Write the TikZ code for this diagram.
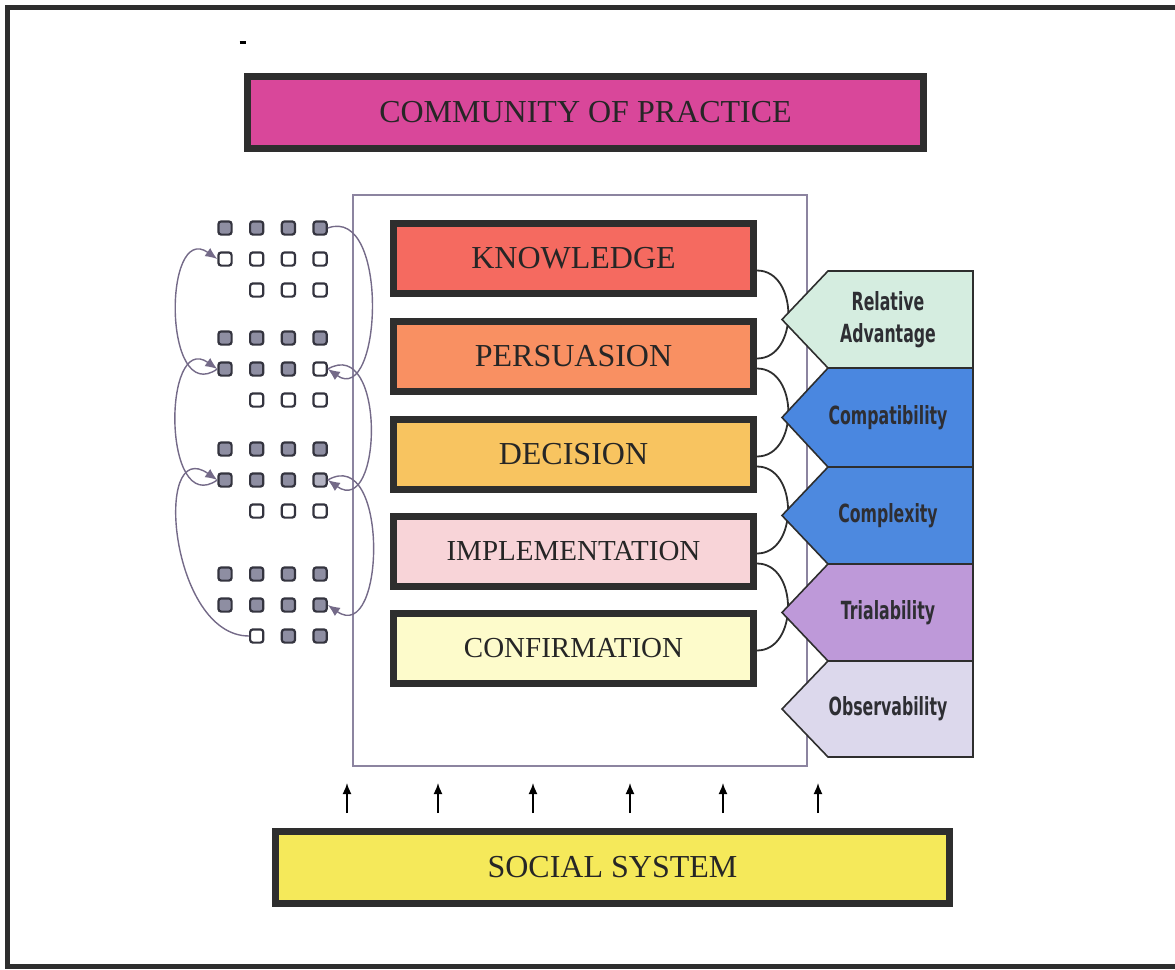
\documentclass[tikz,border=0pt]{standalone}
\usepackage{fontspec}
\usetikzlibrary{arrows.meta}
\setmainfont{Liberation Serif}
\newfontfamily\attrfont[FakeStretch=0.63]{DejaVu Sans}

\definecolor{edge}{HTML}{2E2E2E}
\definecolor{ink}{HTML}{262626}
\definecolor{copc}{HTML}{D9479A}
\definecolor{socc}{HTML}{F5E95A}
\definecolor{knc}{HTML}{F56A60}
\definecolor{pec}{HTML}{F99062}
\definecolor{dec}{HTML}{F8C460}
\definecolor{imc}{HTML}{F8D4D8}
\definecolor{coc}{HTML}{FDFBCB}
\definecolor{rel}{HTML}{D5EDE0}
\definecolor{cpt}{HTML}{4A87E0}
\definecolor{cpx}{HTML}{4D89DF}
\definecolor{tri}{HTML}{BE99D9}
\definecolor{obs}{HTML}{DCD8EC}
\definecolor{attrink}{HTML}{2E2E33}
\definecolor{sqon}{HTML}{8E8EA2}
\definecolor{sqoff}{HTML}{FFFFFF}
\definecolor{sqlt}{HTML}{B3B3C2}
\definecolor{sqedge}{HTML}{34343F}
\definecolor{flowc}{HTML}{746A88}
\definecolor{boxc}{HTML}{8C84A0}

\tikzset{
	bar/.style={draw=edge, line width=3.5pt, minimum width=338pt, minimum height=36pt, inner sep=0pt, text=ink, font=\fontsize{16}{19}\selectfont},
	stage/.style={draw=edge, line width=3.5pt, minimum width=180pt, minimum height=35pt, inner sep=0pt, text=ink},
	attr/.style={draw=edge, line width=0.8pt},
	attrlabel/.style={text=attrink, align=center, font=\attrfont\bfseries\fontsize{12.5}{16}\selectfont},
	sq/.style={draw=sqedge, line width=1.1pt, rounded corners=1.4pt, minimum size=6.6pt, inner sep=0pt},
	flow/.style={draw=flowc, line width=0.7pt, -{Latex[length=6pt, width=5pt]}},
	link/.style={draw=edge, line width=0.9pt}
}

\begin{document}
\begin{tikzpicture}[x=0.5pt, y=-0.5pt, >={Latex[length=5.5pt, width=4.5pt]}]
	\useasboundingbox (0,0) rectangle (1175,970);
	
	\draw[draw=edge, line width=2.5pt] (1175,7) -- (7,7) -- (7,966) -- (1175,966);
	\draw[line width=1.5pt] (239.5,42) -- (245.5,42);
	
	\node[bar, fill=copc] (cop) at (585.5,112.5) {COMMUNITY OF PRACTICE};
	\node[bar, fill=socc, minimum width=337pt] (soc) at (612.5,867.5) {SOCIAL SYSTEM};
	
	\draw[draw=boxc, line width=0.8pt] (353,195) rectangle (807,766);
	
	\foreach \n/\y/\c/\s/\t in {1/258.5/knc/16/KNOWLEDGE, 2/356.5/pec/16/PERSUASION, 3/454.5/dec/16/DECISION, 4/551.5/imc/14.5/IMPLEMENTATION, 5/648.5/coc/14.5/CONFIRMATION}
	{
		\node[stage, fill=\c, font=\fontsize{\s}{18}\selectfont] (s\n) at (573.5,\y) {\t};
	}
	\foreach \i/\j in {1/2,2/3,3/4,4/5}
	{
		\draw[link] ([yshift=-6pt]s\i.east) to[out=0, in=0, looseness=1.22] ([yshift=-1pt]s\j.east);
	}
	
	% attributes of the innovation
	\foreach \t/\b/\c/\txt in {271/368/rel/{Relative\\Advantage}, 368/467/cpt/Compatibility, 467/564/cpx/Complexity, 564/661/tri/Trialability, 661/757/obs/Observability}
	{
		\filldraw[attr, fill=\c] (973,\t) -- (828,\t) -- (782,{(\t+\b)/2}) -- (828,\b) -- (973,\b) -- cycle;
		\node[attrlabel] (a-\c) at (888,{(\t+\b)/2}) {\txt};
	}
	
	% adopter groups
	\foreach \g/\gy/\ra/\rb/\rc in {1/228/{on,on,on,on}/{off,off,off,off}/{off,off,off}, 2/338/{on,on,on,on}/{on,on,on,off}/{off,off,off}, 3/449/{on,on,on,on}/{on,on,on,lt}/{off,off,off}, 4/574/{on,on,on,on}/{on,on,on,on}/{off,on,on}}
	{
		\foreach \s [count=\i] in \ra
			\node[sq, fill=sq\s] (q\g-1-\i) at ({225+31.7*(\i-1)},\gy) {};
		\foreach \s [count=\i] in \rb
			\node[sq, fill=sq\s] (q\g-2-\i) at ({225+31.7*(\i-1)},{\gy+31}) {};
		\foreach \s [count=\i from 2] in \rc
			\node[sq, fill=sq\s] (q\g-3-\i) at ({225+31.7*(\i-1)},{\gy+62}) {};
	}
	
	\draw[flow] (q2-2-1.west) to[out=215, in=145, looseness=1.55] (q1-2-1.west);
	\draw[flow] (q3-2-1.west) to[out=215, in=145, looseness=1.55] (q2-2-1.west);
	\draw[flow] (q4-3-2.west) to[out=180, in=145, looseness=1.27] (q3-2-1.west);
	\draw[flow] (q1-1-4.east) to[out=20, in=325, looseness=1.2] (q2-2-4.east);
	\draw[flow] (q2-2-4.east) to[out=30, in=325, looseness=1.55] (q3-2-4.east);
	\draw[flow] (q3-2-4.east) to[out=30, in=325, looseness=1.45] (q4-2-4.east);
	
	\foreach \x in {347,438,533,630,723,818}
		\draw[->, line width=0.8pt] (\x,0 |- soc.north) ++(0,-15) -- ++(0,-30);
\end{tikzpicture}
\end{document}
